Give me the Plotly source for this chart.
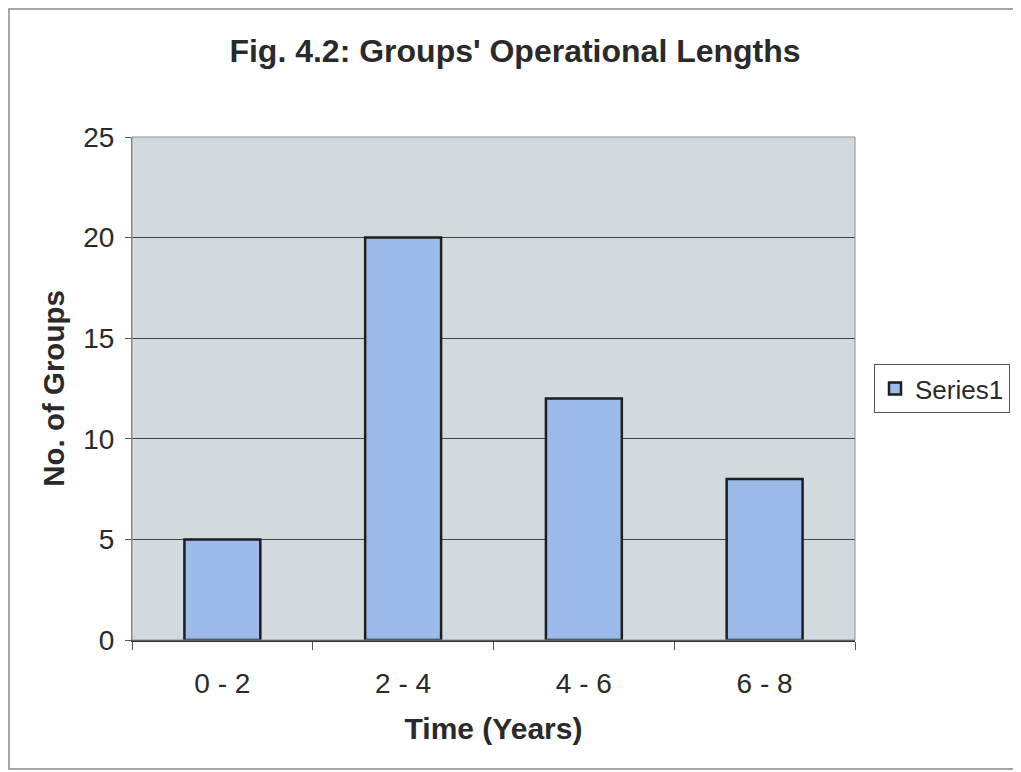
import plotly.graph_objects as go

categories = ["0 - 2", "2 - 4", "4 - 6", "6 - 8"]
values = [5, 20, 12, 8]
series_name = "Series1"
y_ticks = [0, 5, 10, 15, 20, 25]

fig = go.Figure()
fig.add_trace(go.Bar(
    x=categories, y=values, name=series_name, showlegend=True,
    marker=dict(color="#9cbaea", line=dict(color="#1e1e1e", width=2.5)),
))

# the page body has an 8px margin, so the figure is offset by 8px
W, H = 1013, 764
L, R, T, B = 124, 166, 129, 132
pw, ph = W - L - R, H - T - B

fig.update_layout(
    width=W, height=H,
    margin=dict(l=L, r=R, t=T, b=B, autoexpand=False),
    paper_bgcolor="white", plot_bgcolor="#d2dadd",
    bargap=0.58,
    font=dict(family="Liberation Sans, Arial, sans-serif", color="#2a2a2a"),
    title=dict(text="<b>Fig. 4.2: Groups' Operational Lengths</b>",
               x=507 / W, xanchor="center", y=1 - 43 / H, yanchor="middle",
               font=dict(size=32, color="#2a2a2a")),
    showlegend=True,
    legend=dict(x=(866 - L) / pw, xanchor="left", y=0.5, yanchor="middle",
                bordercolor="#555", borderwidth=1, bgcolor="white",
                itemwidth=30,
                font=dict(size=26, color="#2a2a2a")),
    xaxis=dict(
        title=dict(text="<b>Time (Years)</b>", font=dict(size=30), standoff=20),
        tickfont=dict(size=28), tickson="boundaries", ticks="outside",
        ticklen=8, tickcolor="#555", ticklabelstandoff=18,
        showline=True, linecolor="#333", linewidth=1.5,
        mirror=False,
    ),
    yaxis=dict(
        title=dict(text="<b>No. of Groups</b>", font=dict(size=29.5), standoff=9),
        range=[0, 25], tickvals=y_ticks, tickfont=dict(size=28),
        ticks="outside", ticklen=6, tickcolor="#555", ticklabelstandoff=5,
        showgrid=True, gridcolor="#444", gridwidth=1,
        showline=True, linecolor="#777", linewidth=1, zeroline=False,
    ),
    shapes=[
        dict(type="rect", xref="paper", yref="paper", x0=0, x1=1, y0=0, y1=1,
             line=dict(color="#8a9298", width=1), layer="above"),
        dict(type="rect", xref="paper", yref="paper",
             x0=(1 - L) / pw, x1=(1010 - L) / pw,
             y0=(T + ph - 761) / ph, y1=(T + ph - 1) / ph,
             line=dict(color="#888", width=1.5)),
    ],
)

fig.write_html("out.html")
